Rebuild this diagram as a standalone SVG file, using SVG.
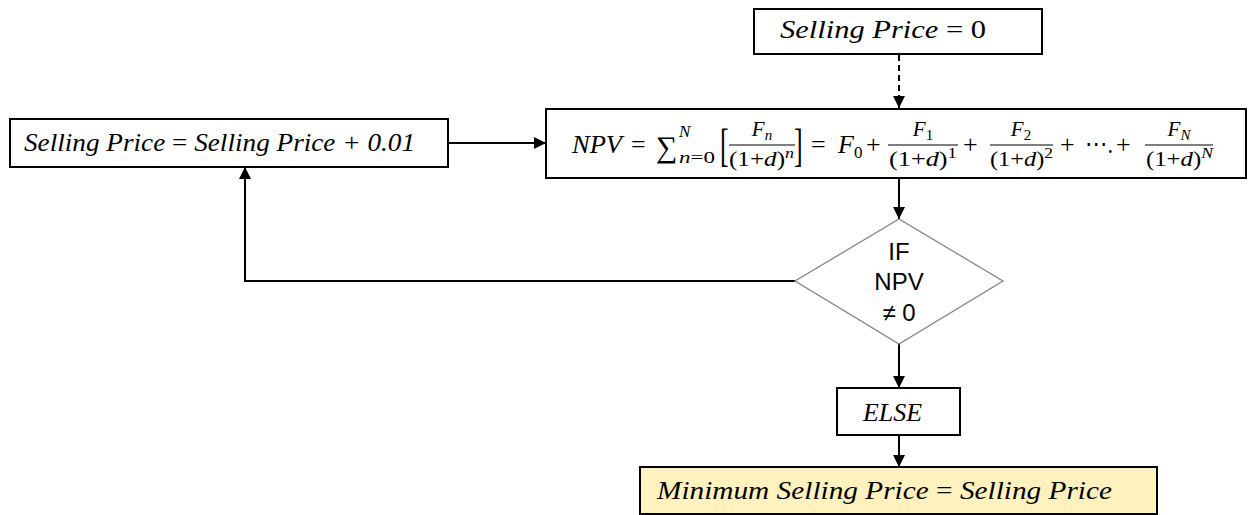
<svg xmlns="http://www.w3.org/2000/svg" width="1249" height="515" viewBox="0 0 1249 515">
<style>
.box{fill:#fff;stroke:#000;stroke-width:2}
.fin{fill:#FFF2BF;stroke:#000;stroke-width:2}
.dia{fill:#fff;stroke:#7f7f7f;stroke-width:1.2}
.conn{fill:none;stroke:#000;stroke-width:2}
.m{font-family:"Liberation Serif",serif;font-style:italic;font-size:26px;fill:#000}
.up{font-style:normal}
.s{font-family:"Liberation Serif",serif;font-style:italic;font-size:21px;fill:#000}
.t{font-size:15px}
.d{font-family:"Liberation Sans",Arial,sans-serif;font-size:24px;fill:#000}
.fl{stroke:#000;stroke-width:1.2}
</style>
<defs>
<marker id="ah" markerUnits="userSpaceOnUse" markerWidth="12" markerHeight="12" refX="12" refY="6" orient="auto">
<path d="M0,0 L12,6 L0,12 z" fill="#000"/>
</marker>
</defs>
<g id="connectors">
<line class="conn" x1="899" y1="55" x2="899" y2="108" stroke-dasharray="6,4" marker-end="url(#ah)"/>
<line class="conn" x1="448" y1="143" x2="546" y2="143" marker-end="url(#ah)"/>
<line class="conn" x1="899" y1="178" x2="899" y2="219" marker-end="url(#ah)"/>
<polyline class="conn" points="795,281 245,281 245,167" marker-end="url(#ah)"/>
<line class="conn" x1="899" y1="344" x2="899" y2="388" marker-end="url(#ah)"/>
<line class="conn" x1="899" y1="435" x2="899" y2="467" marker-end="url(#ah)"/>
</g>
<g id="start">
<rect class="box" x="754" y="9" width="288" height="45"/>
<text class="m" x="780" y="38" textLength="206" lengthAdjust="spacingAndGlyphs">Selling Price  <tspan class="up">= 0</tspan></text>
</g>
<g id="increment">
<rect class="box" x="10" y="119" width="438" height="48"/>
<text class="m" x="24" y="151" textLength="391" lengthAdjust="spacingAndGlyphs">Selling Price <tspan class="up">=</tspan> Selling Price + 0.01</text>
</g>
<g id="npv">
<rect class="box" x="546" y="109" width="700" height="69"/>
<text class="m" x="572" y="153" textLength="50" lengthAdjust="spacingAndGlyphs">NPV</text>
<text class="m up" x="631" y="153">=</text>
<text class="m up" x="656" y="157" style="font-size:30px">∑</text>
<text class="s" x="679" y="137" style="font-size:17px">N</text>
<text class="s" x="679" y="163" style="font-size:17px" textLength="36" lengthAdjust="spacingAndGlyphs">n<tspan class="up">=0</tspan></text>
<text class="m up" transform="translate(720,161) scale(1,1.75)" style="font-size:26px">[</text>
<text class="s" x="762" y="136" text-anchor="middle">F<tspan class="t" dy="4">n</tspan></text>
<line class="fl" x1="729" y1="145" x2="795" y2="145"/>
<text class="s" x="729" y="166" textLength="65" lengthAdjust="spacingAndGlyphs"><tspan class="up">(1+</tspan>d<tspan class="up">)</tspan><tspan class="t" dy="-8">n</tspan></text>
<text class="m up" transform="translate(794,161) scale(1,1.75)" style="font-size:26px">]</text>
<text class="m up" x="811" y="153">=</text>
<text class="m" x="838" y="153">F<tspan class="up" dy="5" style="font-size:17px">0</tspan></text>
<text class="m up" x="866" y="153">+</text>
<text class="s" x="923" y="136" text-anchor="middle">F<tspan class="up t" dy="4">1</tspan></text>
<line class="fl" x1="888" y1="145" x2="958" y2="145"/>
<text class="s" x="889" y="166" textLength="68" lengthAdjust="spacingAndGlyphs"><tspan class="up">(1+</tspan>d<tspan class="up">)</tspan><tspan class="up t" dy="-8">1</tspan></text>
<text class="m up" x="963" y="153">+</text>
<text class="s" x="1021" y="136" text-anchor="middle">F<tspan class="up t" dy="4">2</tspan></text>
<line class="fl" x1="990" y1="145" x2="1053" y2="145"/>
<text class="s" x="990" y="166" textLength="63" lengthAdjust="spacingAndGlyphs"><tspan class="up">(1+</tspan>d<tspan class="up">)</tspan><tspan class="up t" dy="-8">2</tspan></text>
<text class="m up" x="1060" y="153">+</text>
<text class="m up" x="1085" y="153" textLength="28" lengthAdjust="spacingAndGlyphs">⋯.</text>
<text class="m up" x="1116" y="153">+</text>
<text class="s" x="1179" y="136" text-anchor="middle">F<tspan class="t" dy="4">N</tspan></text>
<line class="fl" x1="1145" y1="145" x2="1213" y2="145"/>
<text class="s" x="1146" y="166" textLength="67" lengthAdjust="spacingAndGlyphs"><tspan class="up">(1+</tspan>d<tspan class="up">)</tspan><tspan class="t" dy="-8">N</tspan></text>
</g>
<g id="decision">
<polygon class="dia" points="899,219 1003,281 899,344 795,281"/>
<text class="d" x="899" y="260" text-anchor="middle">IF</text>
<text class="d" x="899" y="290" text-anchor="middle">NPV</text>
<text class="d" x="899" y="321" text-anchor="middle">≠ 0</text>
</g>
<g id="else">
<rect class="box" x="837" y="388" width="123" height="47"/>
<text class="m" x="863" y="421" textLength="59" lengthAdjust="spacingAndGlyphs">ELSE</text>
</g>
<g id="result">
<rect class="fin" x="640" y="467" width="517" height="47"/>
<text class="m" x="657" y="499" textLength="455" lengthAdjust="spacingAndGlyphs">Minimum Selling Price <tspan class="up">=</tspan> Selling Price</text>
</g>
</svg>
